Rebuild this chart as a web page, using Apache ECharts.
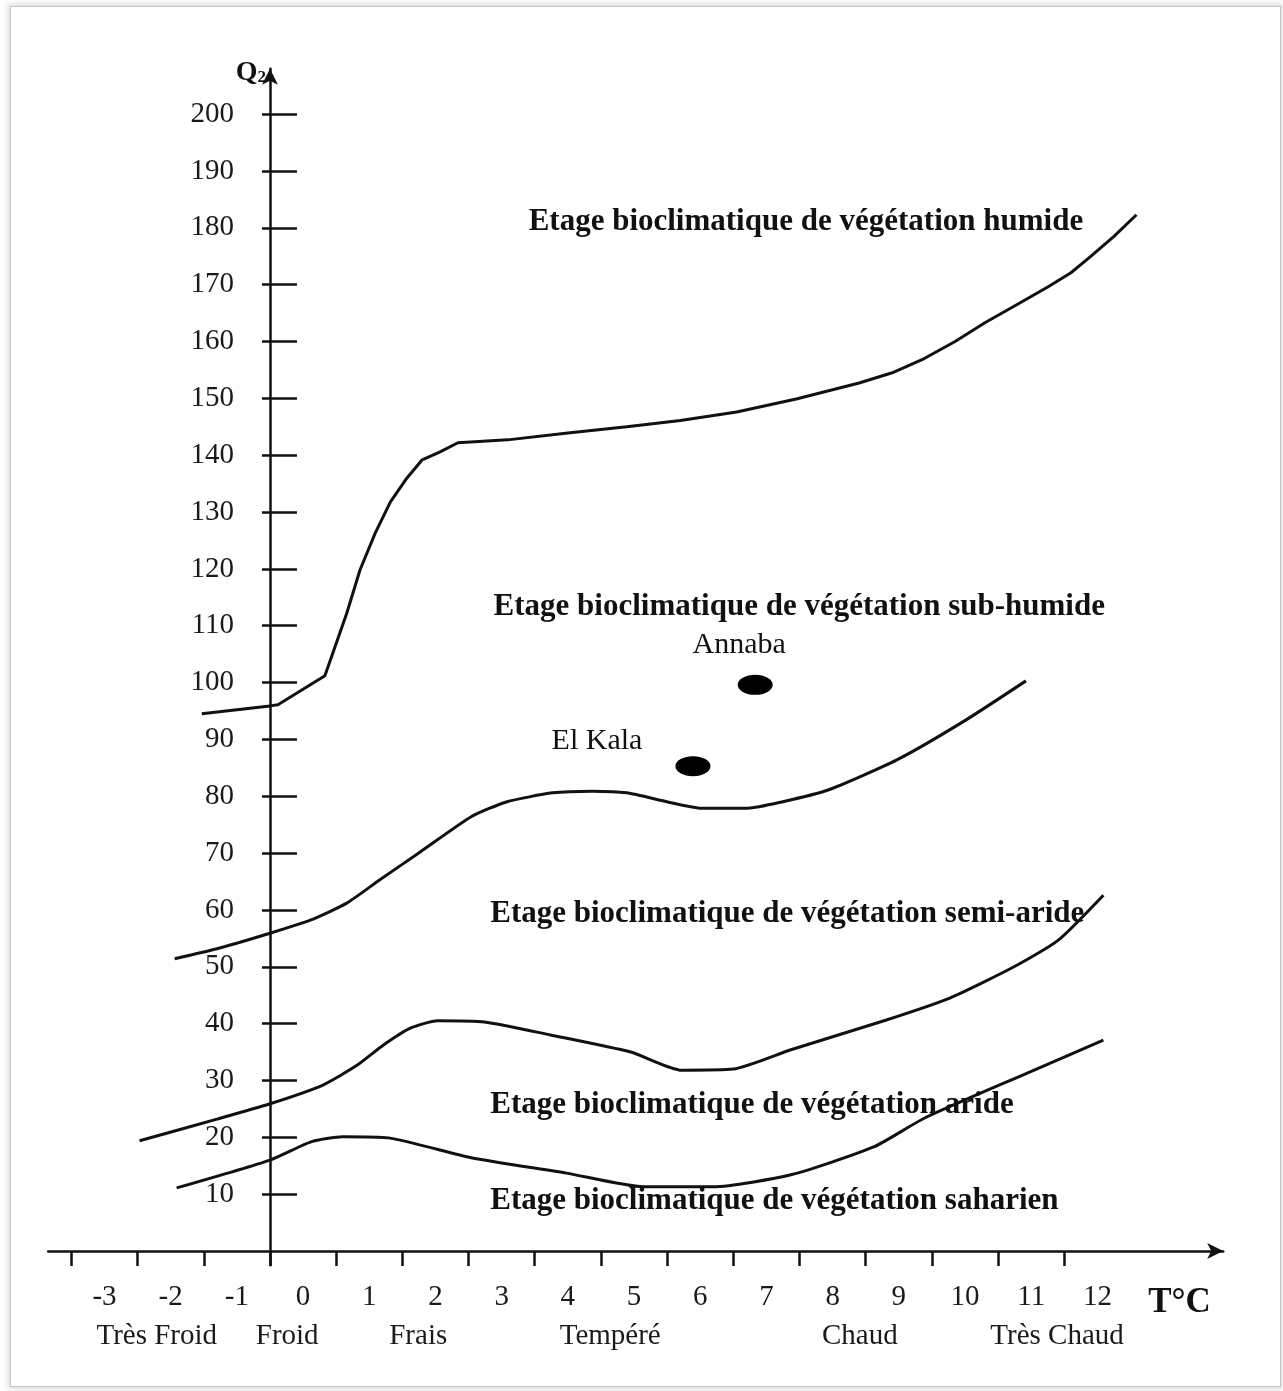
<!DOCTYPE html>
<html>
<head>
<meta charset="utf-8">
<title>Climagramme d'Emberger</title>
<script src="https://cdn.jsdelivr.net/npm/echarts@6/dist/echarts.min.js"></script>
<style>
    html, body { margin: 0; padding: 0; background: #fff; }
    #frame {
        position: absolute; left: 10px; top: 6px; width: 1271px; height: 1381px;
        border: 1px solid #c4c4c4; box-sizing: border-box;
        box-shadow: 0 0 6px 2px rgba(0, 0, 0, 0.15);
    }
    #chart { position: absolute; left: 0; top: 0; width: 1283px; height: 1391px; }
</style>
</head>
<body>
<div id="frame"></div>
<div id="chart"></div>
<script type="text/javascript">
    var serif = 'Liberation Serif, Times New Roman, serif';

    // graduations de l'axe des T (les étiquettes sont au milieu des intervalles)
    var tickValues = [-3, -2, -1, 0, 1, 2, 3, 4, 5, 6, 7, 8, 9, 10, 11, 12];
    var tickLabels = ['-3', '-2', '-1', '0', '1', '2', '3', '4', '5', '6', '7', '8', '9', '10', '11', '12'];
    var classNames = ['Très Froid', 'Froid', 'Frais', 'Tempéré', 'Chaud', 'Très Chaud'];
    var classCenters = [-1.71, 0.26, 2.24, 5.14, 8.91, 11.89];
    var qTicks = [10, 20, 30, 40, 50, 60, 70, 80, 90, 100, 110, 120, 130, 140, 150, 160, 170, 180, 190, 200];

    // limites des étages
    var humidX = [-1.03, 0, 0.12, 0.83, 0.95, 1.16, 1.36, 1.59, 1.82, 2.07, 2.30, 2.57, 2.84, 3.59, 4.50, 5.39, 6.20, 7.05, 7.95, 8.90, 9.40, 9.85, 10.35, 10.80, 11.30, 11.75, 12.10, 12.39, 12.75, 13.09];
    var humidQ = [94.5, 95.9, 96.1, 101.2, 105.2, 112.2, 119.8, 126.3, 131.8, 136.0, 139.2, 140.6, 142.2, 142.7, 143.9, 145.0, 146.1, 147.6, 149.9, 152.7, 154.5, 156.8, 160.0, 163.3, 166.6, 169.6, 172.1, 174.9, 178.5, 182.3];

    var subHumidX = [-1.44, -0.76, 0, 0.61, 1.16, 1.66, 2.27, 3.04, 3.57, 4.27, 4.87, 5.39, 6.01, 6.52, 7.22, 7.73, 8.43, 9.47, 10.51, 11.42];
    var subHumidQ = [51.4, 53.3, 55.9, 58.2, 61.2, 65.3, 70.2, 76.4, 79.0, 80.6, 80.9, 80.6, 79.0, 77.9, 77.9, 79.0, 81.1, 86.4, 93.4, 100.3];

    var semiAridX = [-1.97, -0.80, 0, 0.80, 1.32, 1.71, 2.12, 2.53, 3.24, 4.24, 5.45, 6.22, 7.00, 7.87, 9.30, 10.27, 11.24, 11.91, 12.59];
    var semiAridQ = [19.4, 23.2, 25.9, 29.2, 32.7, 36.2, 39.2, 40.5, 40.3, 38.0, 35.0, 31.8, 32.0, 35.4, 40.6, 44.5, 50.0, 54.7, 62.6];

    var aridX = [-1.41, 0, 0.62, 1.10, 1.79, 3.04, 4.48, 5.64, 6.70, 7.87, 9.12, 9.89, 11.44, 12.59];
    var aridQ = [11.1, 16.0, 19.2, 20.1, 19.9, 16.4, 13.7, 11.3, 11.3, 13.4, 18.3, 23.4, 31.3, 37.1];

    // noms des étages
    var zoneNames = [
        'Etage bioclimatique de végétation humide',
        'Etage bioclimatique de végétation sub-humide',
        'Etage bioclimatique de végétation semi-aride',
        'Etage bioclimatique de végétation aride',
        'Etage bioclimatique de végétation saharien'
    ];
    var zoneX = [3.90, 3.37, 3.32, 3.32, 3.32];
    var zoneQ = [181.0, 113.3, 59.3, 25.7, 8.8];

    // stations
    var stationNames = ['Annaba', 'El Kala'];
    var stationX = [7.33, 6.39];
    var stationQ = [99.6, 85.3];

    function zip(xs, ys) {
        return xs.map(function (x, i) { return [x, ys[i]]; });
    }

    function curve(name, xs, ys, smooth) {
        return {
            name: name,
            type: 'line',
            data: zip(xs, ys),
            symbol: 'none',
            smooth: smooth,
            lineStyle: { color: '#111', width: 3 },
            z: 3
        };
    }

    var myChart = echarts.init(document.getElementById('chart'));

    var option = {
        animation: false,
        backgroundColor: 'transparent',
        grid: [
            { left: 48.2, top: 68.7, width: 1175, height: 1196.5, outerBoundsMode: 'none' },
            // grille fine posée sur l'axe des Q, pour ses étiquettes
            { left: 270, top: 68.7, width: 10, height: 1196.5, outerBoundsMode: 'none' }
        ],
        xAxis: [
            {
                type: 'value',
                min: -3.35,
                max: 14.4,
                position: 'bottom',
                axisLine: {
                    onZero: true,
                    symbol: ['none', 'arrow'],
                    symbolSize: [12, 16],
                    lineStyle: { color: '#111', width: 2.5 }
                },
                axisTick: { show: true, customValues: tickValues, length: 15, lineStyle: { color: '#111', width: 2.5 } },
                axisLabel: {
                    customValues: tickValues.map(function (v) { return v + 0.5; }),
                    formatter: function (v) { return tickLabels[tickValues.indexOf(v - 0.5)]; },
                    margin: 18,
                    fontFamily: serif,
                    fontSize: 29,
                    color: '#1a1a1a'
                },
                splitLine: { show: false },
                name: 'T°C',
                nameLocation: 'end',
                nameGap: -75,
                nameTextStyle: {
                    fontFamily: serif, fontSize: 35, fontWeight: 'bold', color: '#111',
                    align: 'left', verticalAlign: 'top', padding: [34, 0, 0, 0]
                }
            },
            {
                type: 'value',
                min: -3.35,
                max: 14.4,
                position: 'bottom',
                axisLine: { show: false, onZero: true },
                axisTick: { show: false },
                axisLabel: {
                    customValues: classCenters,
                    formatter: function (v) { return classNames[classCenters.indexOf(v)]; },
                    margin: 57,
                    fontFamily: serif,
                    fontSize: 29,
                    color: '#1a1a1a'
                },
                splitLine: { show: false }
            },
            { gridIndex: 1, type: 'value', min: 0, max: 1, show: false }
        ],
        yAxis: [
            {
                type: 'value',
                min: -2.5,
                max: 208,
                position: 'left',
                axisLine: {
                    onZero: true,
                    symbol: ['none', 'arrow'],
                    symbolSize: [12, 16],
                    lineStyle: { color: '#111', width: 2.5 }
                },
                axisTick: { show: true, inside: true, customValues: qTicks, length: 27, lineStyle: { color: '#111', width: 2.5 } },
                axisLabel: { show: false },
                splitLine: { show: false },
                name: '{q|Q}{s|2}',
                nameLocation: 'end',
                nameGap: 10,
                nameTextStyle: {
                    align: 'right',
                    verticalAlign: 'top',
                    padding: [0, 4, 0, 0],
                    rich: {
                        q: { fontFamily: serif, fontSize: 28, fontWeight: 'bold', color: '#111' },
                        s: { fontFamily: serif, fontSize: 17, fontWeight: 'bold', color: '#111', padding: [10, 0, 0, 0] }
                    }
                }
            },
            {
                type: 'value',
                min: -2.5,
                max: 208,
                position: 'left',
                axisLine: { show: false, onZero: true },
                axisTick: { show: true, inside: false, customValues: qTicks, length: 8, lineStyle: { color: '#111', width: 2.5 } },
                axisLabel: { show: false },
                splitLine: { show: false }
            },
            {
                gridIndex: 1,
                type: 'value',
                min: -2.5,
                max: 208,
                position: 'left',
                axisLine: { show: false },
                axisTick: { show: false },
                axisLabel: {
                    customValues: qTicks,
                    margin: 36,
                    fontFamily: serif,
                    fontSize: 29,
                    color: '#1a1a1a'
                },
                splitLine: { show: false }
            }
        ],
        series: [
            curve('humide', humidX, humidQ, false),
            curve('sub-humide', subHumidX, subHumidQ, 0.2),
            curve('semi-aride', semiAridX, semiAridQ, 0.2),
            curve('aride', aridX, aridQ, 0.2),
            {
                name: 'étages',
                type: 'scatter',
                symbolSize: 1,
                itemStyle: { color: 'transparent', opacity: 1 },
                data: zoneX.map(function (x, i) { return { name: zoneNames[i], value: [x, zoneQ[i]] }; }),
                label: {
                    show: true,
                    position: 'right',
                    distance: 0,
                    formatter: '{b}',
                    fontFamily: serif,
                    fontSize: 31,
                    fontWeight: 'bold',
                    color: '#111'
                },
                z: 4
            },
            {
                name: 'stations',
                type: 'scatter',
                symbol: 'circle',
                symbolSize: [35, 20],
                itemStyle: { color: '#000', opacity: 1 },
                data: [
                    { name: stationNames[0], value: [stationX[0], stationQ[0]], label: { offset: [-16, -40] } },
                    { name: stationNames[1], value: [stationX[1], stationQ[1]], label: { offset: [-96, -25] } }
                ],
                label: {
                    show: true,
                    position: 'inside',
                    formatter: '{b}',
                    fontFamily: serif,
                    fontSize: 30,
                    color: '#111'
                },
                z: 5
            }
        ]
    };
    myChart.setOption(option);
</script>
</body>
</html>
